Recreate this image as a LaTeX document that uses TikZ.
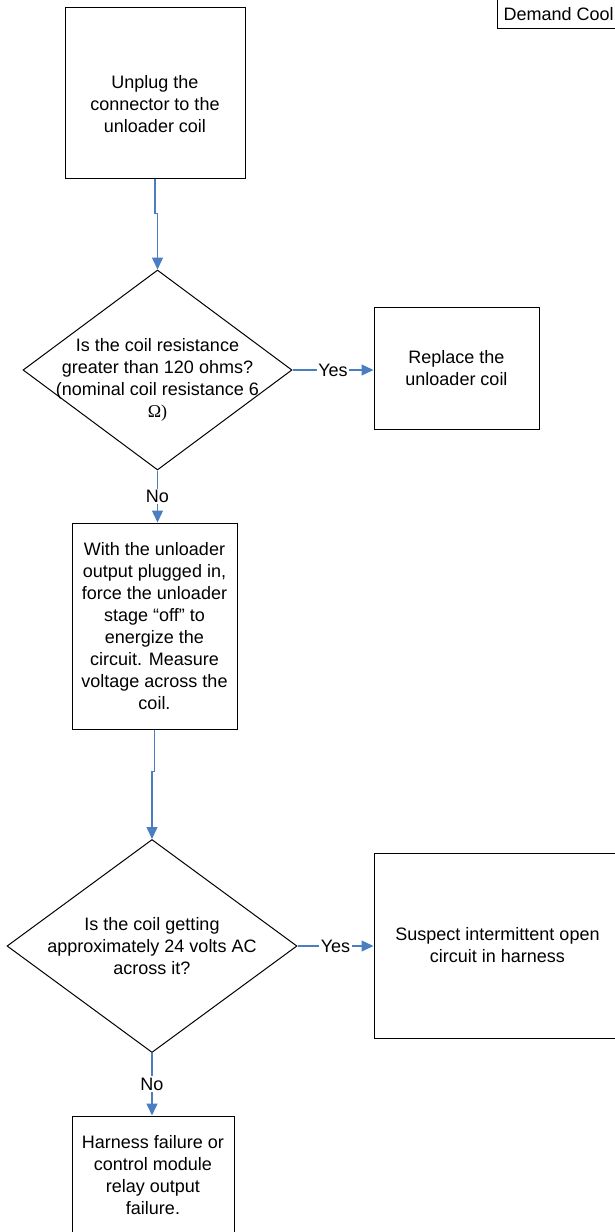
\documentclass[tikz,border=0pt]{standalone}
\usepackage{fontspec}
\setmainfont{Liberation Sans}
\newfontfamily\ohmfont{Liberation Serif}
\usepackage{tikz}
\usepackage{xcolor}
\usetikzlibrary{shapes.geometric,arrows.meta}
\definecolor{linkblue}{RGB}{74,126,193}

\begin{document}
\begin{tikzpicture}[x=1pt,y=-1pt,
  every node/.style={font=\fontsize{18}{22}\selectfont},
  box/.style={draw,line width=1pt,inner sep=0pt,align=center},
  decision/.style={draw,line width=1pt,diamond,inner sep=0pt},
  txt/.style={align=center,inner sep=0pt},
  link/.style={draw=linkblue,line width=1.3pt,-{Triangle[length=12pt,width=11pt]}},
  lbl/.style={fill=white,inner sep=1.5pt}]
  \useasboundingbox (0,0) rectangle (615,1232);
  \node[box,anchor=base west,text height=24pt,text depth=8pt,inner xsep=6pt] (cool) at (497,20) {Demand Cool};
  \node[box,minimum width=180,minimum height=171] (b1) at (155,92.5) {};
  \node[txt] (b1txt) at (155,104) {Unplug the\\connector to the\\unloader coil};
  \node[decision,minimum width=269,minimum height=200] (d1) at (157.5,370) {};
  \node[txt] (d1txt) at (157.5,380) {Is the coil resistance\\greater than 120 ohms?\\(nominal coil resistance 6\\{\ohmfont Ω)}};
  \node[box,minimum width=165,minimum height=122] (r1) at (456.5,368) {Replace the\\unloader coil};
  \node[box,minimum width=165,minimum height=206] (b2) at (154.5,626) {With the unloader\\output plugged in,\\force the unloader\\stage “off” to\\energize the\\circuit.  Measure\\voltage across the\\coil.};
  \node[decision,minimum width=290,minimum height=213] (d2) at (152,946) {};
  \node[txt] (d2txt) at (152,946) {Is the coil getting\\approximately 24 volts AC\\across it?};
  \node[box,minimum width=247,minimum height=185] (r2) at (497.5,945.5) {Suspect intermittent open\\circuit in harness};
  \node[box,minimum width=162,minimum height=118] (b4) at (153,1175) {Harness failure or\\control module\\relay output\\failure.};
  \draw[link] (b1.south) -- ++(0,35) -| (d1.north);
  \draw[link] (d1.east) -- node[lbl]{Yes} (d1.east -| r1.west);
  \draw[link] (d1.south) -- node[lbl]{No} (d1.south |- b2.north);
  \draw[link] (b2.south) -- ++(0,42) -| (d2.north);
  \draw[link] (d2.east) -- node[lbl]{Yes} (d2.east -| r2.west);
  \draw[link] (d2.south) -- node[lbl]{No} (d2.south |- b4.north);
\end{tikzpicture}
\end{document}
